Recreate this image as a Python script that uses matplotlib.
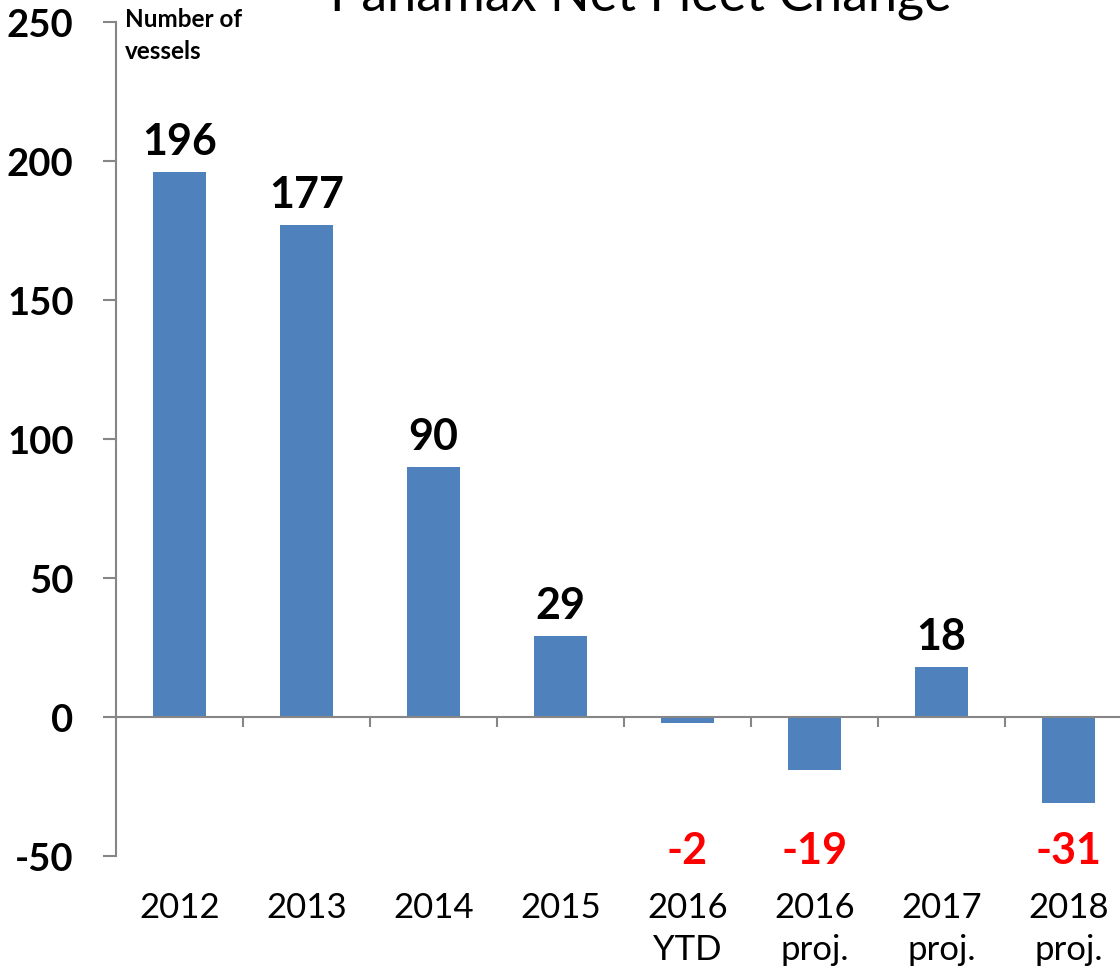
import matplotlib.pyplot as plt

# Datos
categorias = ['2012', '2013', '2014', '2015', '2016\nYTD', '2016\nproj.', '2017\nproj.', '2018\nproj.']
cambio_neto = [196, 177, 90, 29, -2, -19, 18, -31]
y_ticks = [-50, 0, 50, 100, 150, 200, 250]

plt.rcParams['font.family'] = ['Lato', 'DejaVu Sans']

fig = plt.figure(figsize=(11.2, 9.7), dpi=100)
ax = fig.add_axes([116 / 1120, 113 / 970, 1016 / 1120, 834 / 970])

x = range(len(categorias))
ax.bar(x, cambio_neto, width=0.41, color='#4F81BD', zorder=2)

ax.set_xlim(-0.5, len(categorias) - 0.5)
ax.set_ylim(-50, 250)
ax.set_yticks(y_ticks)
ax.set_yticklabels([str(v) for v in y_ticks], fontsize=27.5, fontweight='bold')
ax.tick_params(axis='y', length=9.5, width=1.5, color='#868686', pad=21)

# eje x en y=0 con marcas entre categorias
ax.spines['bottom'].set_position(('data', 0))
ax.spines['bottom'].set_color('#868686')
ax.spines['bottom'].set_linewidth(1.5)
ax.spines['left'].set_color('#868686')
ax.spines['left'].set_linewidth(1.5)
ax.spines['top'].set_visible(False)
ax.spines['right'].set_visible(False)
ax.set_xticks([i + 0.5 for i in range(len(categorias) - 1)])
ax.set_xticklabels([])
ax.tick_params(axis='x', length=7.5, width=1.5, color='#868686', direction='out')

for i, cat in enumerate(categorias):
    ax.text(i, -62.5, cat, ha='center', va='top', fontsize=25, linespacing=1.4)

for i, v in enumerate(cambio_neto):
    if v >= 0:
        ax.annotate(str(v), (i, v), xytext=(0, 8), textcoords='offset points',
                    ha='center', va='bottom', fontsize=31, fontweight='bold')
    else:
        ax.text(i, -48, str(v), ha='center', va='center', fontsize=31,
                fontweight='bold', color='#FF0000')

ax.text(125 / 1120, 1 - 8 / 970, 'Number of\nvessels', transform=fig.transFigure,
        ha='left', va='top', fontsize=17.5, fontweight='bold', linespacing=1.45)

fig.text(641 / 1120, 1 - 10 / 970, 'Panamax Net Fleet Change', ha='center',
         va='baseline', fontsize=37.5)

fig.savefig('out.png', dpi=100)
